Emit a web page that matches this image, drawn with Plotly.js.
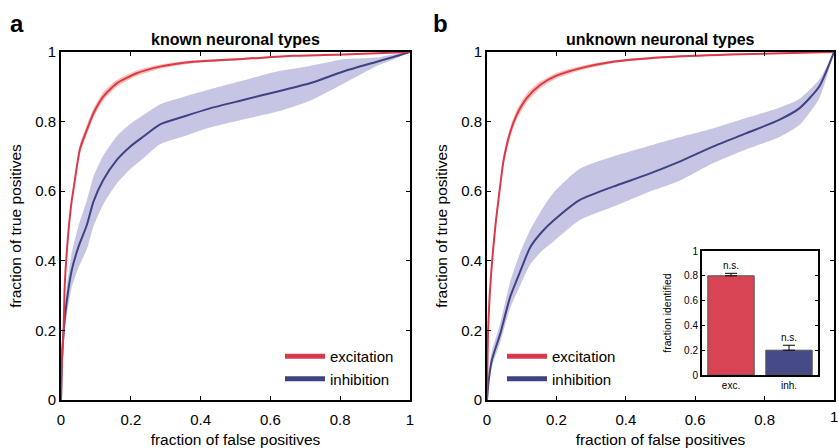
<!DOCTYPE html>
<html>
<head>
<meta charset="utf-8">
<script src="https://cdn.plot.ly/plotly-3.0.1.min.js"></script>
<style>html,body{margin:0;padding:0;background:#fff;overflow:hidden;}#chart{width:839px;height:448px;}</style>
</head>
<body>
<div id="chart"></div>
<script>
// ---------- Panel a: known neuronal types ----------
var excA_x = [0,0.002,0.007,0.011,0.021,0.031,0.035,0.054,0.074,0.093,0.121,0.16,0.217,0.284,0.379,0.52,0.665,0.81,1.0];
var excA_y = [0,0.1,0.19,0.336,0.48,0.575,0.60,0.72,0.776,0.824,0.872,0.91,0.939,0.958,0.972,0.98,0.989,0.993,1.0];
var excA_hi = [0,0.1,0.195,0.344,0.49,0.585,0.612,0.734,0.79,0.837,0.884,0.92,0.947,0.964,0.976,0.983,0.991,0.994,1];
var excA_lo = [0,0.1,0.185,0.328,0.47,0.565,0.588,0.706,0.762,0.811,0.86,0.90,0.931,0.952,0.968,0.977,0.987,0.992,1];

var inhA_x = [0,0.003,0.007,0.016,0.031,0.05,0.074,0.093,0.121,0.16,0.198,0.236,0.284,0.35,0.427,0.522,0.618,0.713,0.809,0.905,0.95,1];
var inhA_y = [0,0.12,0.19,0.28,0.374,0.44,0.503,0.57,0.632,0.69,0.728,0.757,0.792,0.814,0.838,0.862,0.886,0.91,0.944,0.972,0.985,1];
var inhA_hi = [0,0.14,0.22,0.32,0.424,0.50,0.573,0.642,0.702,0.758,0.793,0.819,0.85,0.871,0.893,0.918,0.944,0.96,0.979,0.984,0.993,1];
var inhA_lo = [0,0.10,0.16,0.24,0.324,0.38,0.433,0.498,0.562,0.622,0.663,0.695,0.735,0.757,0.783,0.806,0.828,0.86,0.909,0.96,0.977,1];

// ---------- Panel b: unknown neuronal types ----------
var excB_x = [0,0.003,0.01,0.024,0.033,0.048,0.067,0.086,0.115,0.153,0.2,0.268,0.363,0.507,0.7,1];
var excB_y = [0,0.19,0.336,0.498,0.575,0.69,0.77,0.82,0.868,0.905,0.932,0.953,0.972,0.985,0.993,1];
var excB_hi = [0,0.195,0.344,0.508,0.587,0.703,0.784,0.834,0.881,0.915,0.94,0.959,0.976,0.988,0.995,1];
var excB_lo = [0,0.185,0.328,0.488,0.563,0.677,0.756,0.806,0.855,0.895,0.924,0.947,0.968,0.982,0.991,1];

var inhB_x = [0,0.005,0.014,0.038,0.067,0.096,0.125,0.16,0.191,0.268,0.363,0.459,0.555,0.651,0.746,0.842,0.9,0.957,1];
var inhB_y = [0,0.057,0.115,0.19,0.297,0.37,0.44,0.485,0.515,0.575,0.613,0.647,0.685,0.728,0.766,0.805,0.838,0.9,1];
var inhB_hi = [0,0.07,0.14,0.22,0.34,0.425,0.49,0.55,0.595,0.665,0.70,0.728,0.755,0.78,0.81,0.84,0.865,0.92,1];
var inhB_lo = [0,0.045,0.095,0.165,0.265,0.33,0.39,0.43,0.455,0.517,0.555,0.595,0.63,0.68,0.72,0.755,0.79,0.866,1];

// ---------- Inset bar chart ----------
var barCats = ['exc.', 'inh.'];
var barVals = [0.80, 0.20];
var barErr = [0.02, 0.04];
var barSig = ['n.s.', 'n.s.'];

var legendNames = ['excitation', 'inhibition'];
var tickVals = [0, 0.2, 0.4, 0.6, 0.8, 1];
var tickText = ['0', '0.2', '0.4', '0.6', '0.8', '1'];

var RED = '#d93a4b', RED_BAND = 'rgba(244,170,155,0.75)';
var BLUE = '#3e4283', BLUE_BAND = 'rgba(160,160,210,0.6)';
var BAR_RED = '#d84453', BAR_BLUE = '#464a87';
var SHAPE = {shape: 'spline', smoothing: 0.6};

function band(x, lo, hi, color, xa, ya) {
  return [
    {x: x, y: lo, xaxis: xa, yaxis: ya, mode: 'lines', line: Object.assign({width: 0, color: color}, SHAPE), showlegend: false, hoverinfo: 'skip'},
    {x: x, y: hi, xaxis: xa, yaxis: ya, mode: 'lines', line: Object.assign({width: 0, color: color}, SHAPE), fill: 'tonexty', fillcolor: color, showlegend: false, hoverinfo: 'skip'}
  ];
}
function curve(x, y, color, xa, ya) {
  return {x: x, y: y, xaxis: xa, yaxis: ya, mode: 'lines', line: Object.assign({width: 2, color: color}, SHAPE), showlegend: false};
}
function legendEntry(name, color, lg) {
  return {x: [null], y: [null], mode: 'lines', name: name, line: {width: 5, color: color}, legend: lg, showlegend: true, xaxis: 'x', yaxis: 'y'};
}

var traces = [].concat(
  band(inhA_x, inhA_lo, inhA_hi, BLUE_BAND, 'x', 'y'),
  band(excA_x, excA_lo, excA_hi, RED_BAND, 'x', 'y'),
  [curve(inhA_x, inhA_y, BLUE, 'x', 'y'), curve(excA_x, excA_y, RED, 'x', 'y')],
  band(inhB_x, inhB_lo, inhB_hi, BLUE_BAND, 'x2', 'y2'),
  band(excB_x, excB_lo, excB_hi, RED_BAND, 'x2', 'y2'),
  [curve(inhB_x, inhB_y, BLUE, 'x2', 'y2'), curve(excB_x, excB_y, RED, 'x2', 'y2')],
  [legendEntry(legendNames[0], RED, 'legend'), legendEntry(legendNames[1], BLUE, 'legend'),
   legendEntry(legendNames[0], RED, 'legend2'), legendEntry(legendNames[1], BLUE, 'legend2')],
  [{
    type: 'bar', x: barCats, y: barVals, xaxis: 'x3', yaxis: 'y3', width: 0.8,
    marker: {color: [BAR_RED, BAR_BLUE], line: {color: '#555', width: 1}},
    error_y: {type: 'data', symmetric: false, array: barErr, arrayminus: [0, 0], color: '#000', thickness: 1, width: 6},
    showlegend: false
  }]
);

var FONT = 'Liberation Sans, Arial, Helvetica, sans-serif';
var TICKFONT = {size: 15, color: '#000', family: FONT};
function mainX(domain, labels) {
  return {domain: domain, range: [0, 1], showline: true, linewidth: 2, linecolor: '#000', mirror: 'ticks',
    ticks: 'inside', ticklen: 4, tickwidth: 1, tickcolor: '#000', tickvals: tickVals, ticktext: labels,
    showgrid: false, zeroline: false, tickfont: TICKFONT,
    ticklabelstandoff: 5, ticklabeloverflow: 'allow',
    title: {text: 'fraction of false positives', font: {size: 15.5, color: '#000', family: FONT}, standoff: 7}};
}
function mainY(domain, anchor) {
  return {domain: domain, anchor: anchor, range: [0, 1], showline: true, linewidth: 2, linecolor: '#000', mirror: 'ticks',
    ticks: 'inside', ticklen: 4, tickwidth: 1, tickcolor: '#000', tickvals: tickVals, ticktext: tickText,
    showgrid: false, zeroline: false, tickfont: TICKFONT, ticklabeloverflow: 'allow',
    title: {text: 'fraction of true positives', font: {size: 15.5, color: '#000', family: FONT}, standoff: 10}};
}
// Panel b: the last x tick label sits at the page edge, so it is drawn as an annotation instead
var tickTextB = tickText.slice(0, -1).concat(['']);

var ann = [
  {text: '<b>a</b>', xref: 'paper', yref: 'paper', x: 8 / 839, y: 1 - 8 / 448, xanchor: 'left', yanchor: 'top', showarrow: false, font: {size: 24, color: '#000', family: FONT}},
  {text: '<b>b</b>', xref: 'paper', yref: 'paper', x: 431 / 839, y: 1 - 8 / 448, xanchor: 'left', yanchor: 'top', showarrow: false, font: {size: 24, color: '#000', family: FONT}},
  {text: '<b>known neuronal types</b>', xref: 'x domain', yref: 'y domain', x: 0.5, y: 1, yshift: 2, xanchor: 'center', yanchor: 'bottom', showarrow: false, font: {size: 16, color: '#000', family: FONT}},
  {text: '<b>unknown neuronal types</b>', xref: 'x2 domain', yref: 'y2 domain', x: 0.5, y: 1, yshift: 2, xanchor: 'center', yanchor: 'bottom', showarrow: false, font: {size: 16, color: '#000', family: FONT}},
  {text: tickText[tickText.length - 1], xref: 'x2', yref: 'y2 domain', x: tickVals[tickVals.length - 1], y: 0, yshift: -6,
    xanchor: 'center', yanchor: 'top', showarrow: false, font: TICKFONT}
];
for (var i = 0; i < barCats.length; i++) {
  ann.push({text: barSig[i], xref: 'x3', yref: 'y3', x: barCats[i], y: barVals[i] + barErr[i], yshift: 0,
    xanchor: 'center', yanchor: 'bottom', showarrow: false, font: {size: 10, color: '#000', family: FONT}});
}

var layout = {
  width: 839, height: 448,
  margin: {l: 0, r: 0, t: 0, b: 0},
  paper_bgcolor: '#fff', plot_bgcolor: 'rgba(0,0,0,0)',
  font: {family: FONT, color: '#000'},
  xaxis: mainX([61 / 839, 410 / 839], tickText),
  yaxis: mainY([48 / 448, 396 / 448], 'x'),
  xaxis2: Object.assign(mainX([487 / 839, 834 / 839], tickTextB), {anchor: 'y2'}),
  yaxis2: mainY([48 / 448, 396 / 448], 'x2'),
  xaxis3: {domain: [702 / 839, 818 / 839], anchor: 'y3', range: [-0.5, 1.5], showline: true, linewidth: 2, linecolor: '#000', mirror: true,
    ticks: '', showgrid: false, zeroline: false, tickfont: {size: 10, color: '#000', family: FONT}, fixedrange: true},
  yaxis3: {domain: [73 / 448, 197 / 448], anchor: 'x3', range: [0, 1], showline: true, linewidth: 2, linecolor: '#000', mirror: 'ticks',
    ticks: 'inside', ticklen: 3, tickcolor: '#000', tickvals: tickVals, ticktext: tickText, showgrid: false, zeroline: false,
    tickfont: {size: 10, color: '#000', family: FONT},
    title: {text: 'fraction identified', font: {size: 10.5, color: '#000', family: FONT}, standoff: 10}},
  legend: {x: 280 / 839, y: 1 - 340 / 448, xanchor: 'left', yanchor: 'top', bgcolor: 'rgba(0,0,0,0)', borderwidth: 0,
    font: {size: 15, color: '#000', family: FONT}, itemwidth: 40, tracegroupgap: 0, traceorder: 'normal'},
  legend2: {x: 502 / 839, y: 1 - 340 / 448, xanchor: 'left', yanchor: 'top', bgcolor: 'rgba(0,0,0,0)', borderwidth: 0,
    font: {size: 15, color: '#000', family: FONT}, itemwidth: 40, tracegroupgap: 0, traceorder: 'normal'},
  annotations: ann,
  shapes: [
    {type: 'rect', xref: 'x3 domain', yref: 'y3 domain', x0: 0, x1: 1, y0: 0, y1: 1, fillcolor: '#fff', line: {width: 0}, layer: 'below'}
  ]
};

Plotly.newPlot('chart', traces, layout, {staticPlot: true, displayModeBar: false});
</script>
</body>
</html>
